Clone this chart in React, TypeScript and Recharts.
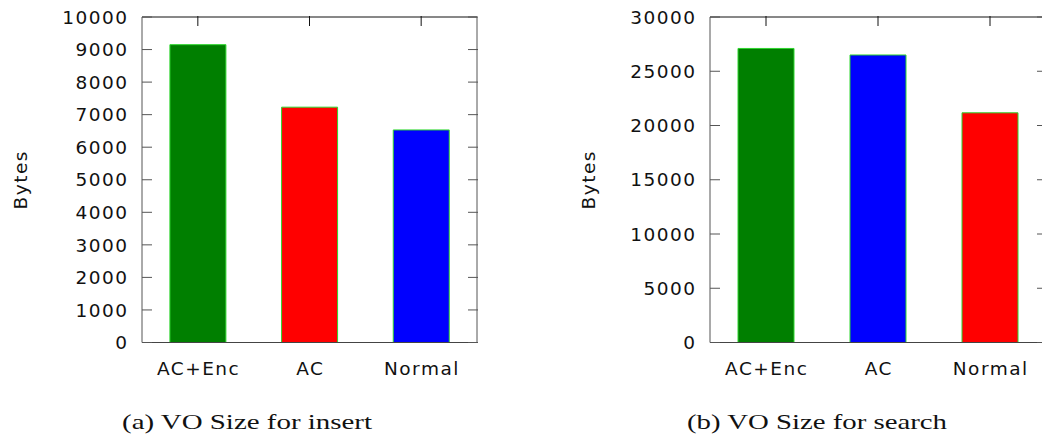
import React from "react";
import { BarChart, Bar, Cell, XAxis, YAxis } from "recharts";

// (a) VO size for insert
const INSERT_CATEGORIES = ["AC+Enc", "AC", "Normal"];
const INSERT_BYTES = [9150, 7230, 6530];
const INSERT_COLORS = ["#007f00", "#ff0000", "#0000ff"];
const INSERT_TICKS = [0, 1000, 2000, 3000, 4000, 5000, 6000, 7000, 8000, 9000, 10000];

// (b) VO size for search
const SEARCH_CATEGORIES = ["AC+Enc", "AC", "Normal"];
const SEARCH_BYTES = [27100, 26500, 21170];
const SEARCH_COLORS = ["#007f00", "#0000ff", "#ff0000"];
const SEARCH_TICKS = [0, 5000, 10000, 15000, 20000, 25000, 30000];

const CAPTIONS = ["(a) VO Size for insert", "(b) VO Size for search"];

const SANS = "'DejaVu Sans', Verdana, sans-serif";
const TEXT_STYLE = { fontFamily: SANS, fontSize: 18.5, letterSpacing: 1.5, fill: "#111" };
const SERIF_STYLE = { fontFamily: "'Liberation Serif', 'Times New Roman', serif", fontSize: 21.5, fill: "#111" };

const CHART_W = 500;
const CHART_H = 438;
const PLOT_TOP = 16;
const X_AXIS_H = 40;
const BOTTOM_MARGIN = 55.5;

function AxisTitle(props: any) {
  const vb = props.viewBox || {};
  const cy = vb.height ? vb.y + vb.height / 2 : 180;
  const x = props.tx;
  return (
    <text
      x={x}
      y={cy}
      transform={`rotate(-90, ${x}, ${cy})`}
      textAnchor="middle"
      dy="0.36em"
      style={TEXT_STYLE}
    >
      Bytes
    </text>
  );
}

interface PanelProps {
  left: number;
  yWidth: number;
  rightMargin: number;
  titleX: number;
  categories: string[];
  values: number[];
  colors: string[];
  ticks: number[];
}

function Panel({ left, yWidth, rightMargin, titleX, categories, values, colors, ticks }: PanelProps) {
  const data = categories.map((name, i) => ({ name, bytes: values[i] }));
  const plotLeft = yWidth;
  const plotRight = CHART_W - rightMargin;
  const max = ticks[ticks.length - 1];

  const YTick = ({ y, payload }: any) => (
    <g>
      <line x1={plotLeft} x2={plotLeft + 10} y1={y} y2={y} stroke="#555" />
      <line x1={plotRight - 10} x2={plotRight} y1={y} y2={y} stroke="#555" />
      <text x={plotLeft - 13.5} y={y} dy="0.36em" textAnchor="end" style={TEXT_STYLE}>
        {payload.value}
      </text>
    </g>
  );

  const XTick = ({ x, y, payload }: any) => (
    <g>
      <line x1={x} x2={x} y1={PLOT_TOP} y2={PLOT_TOP + 10} stroke="#111" />
      <text x={x + 0.75} y={y + 32} textAnchor="middle" style={TEXT_STYLE}>
        {payload.value}
      </text>
    </g>
  );

  return (
    <div style={{ position: "absolute", left, top: 0 }}>
      <BarChart
        width={CHART_W}
        height={CHART_H}
        data={data}
        margin={{ top: PLOT_TOP, right: rightMargin, left: 0, bottom: BOTTOM_MARGIN }}
        barCategoryGap="25%"
      >
        <XAxis
          dataKey="name"
          height={X_AXIS_H}
          tickSize={0}
          tickMargin={0}
          tickLine={false}
          stroke="#444"
          axisLine={true}
          tick={<XTick />}
          interval={0}
        />
        <XAxis
          xAxisId="top"
          dataKey="name"
          orientation="top"
          height={1}
          tick={false}
          tickLine={false}
          stroke="#111"
          axisLine={true}
        />
        <YAxis
          width={yWidth}
          domain={[0, max]}
          ticks={ticks}
          interval={0}
          tickSize={0}
          tickMargin={0}
          tickLine={false}
          stroke="#555"
          axisLine={true}
          tick={<YTick />}
          label={<AxisTitle tx={titleX} />}
        />
        <YAxis
          yAxisId="r"
          orientation="right"
          width={1}
          domain={[0, max]}
          tick={false}
          tickLine={false}
          stroke="#555"
          axisLine={true}
        />
        <Bar dataKey="bytes" stroke="#2fd62f" strokeWidth={1} isAnimationActive={false}>
          {data.map((_, i) => (
            <Cell key={i} fill={colors[i]} />
          ))}
        </Bar>
      </BarChart>
    </div>
  );
}

export default function App() {
  return (
    <div
      style={{
        position: "absolute",
        left: 0,
        top: 0,
        width: 1042,
        height: 438,
        overflow: "hidden",
        background: "#fff",
      }}
    >
      <Panel
        left={0}
        yWidth={142}
        rightMargin={22}
        titleX={20}
        categories={INSERT_CATEGORIES}
        values={INSERT_BYTES}
        colors={INSERT_COLORS}
        ticks={INSERT_TICKS}
      />
      <Panel
        left={560}
        yWidth={150}
        rightMargin={13}
        titleX={28}
        categories={SEARCH_CATEGORIES}
        values={SEARCH_BYTES}
        colors={SEARCH_COLORS}
        ticks={SEARCH_TICKS}
      />
      <svg
        width={1042}
        height={438}
        style={{ position: "absolute", left: 0, top: 0, pointerEvents: "none" }}
      >
        <text x={122} y={429} textLength={250} lengthAdjust="spacingAndGlyphs" style={SERIF_STYLE}>
          {CAPTIONS[0]}
        </text>
        <text x={687} y={429} textLength={260} lengthAdjust="spacingAndGlyphs" style={SERIF_STYLE}>
          {CAPTIONS[1]}
        </text>
      </svg>
    </div>
  );
}
